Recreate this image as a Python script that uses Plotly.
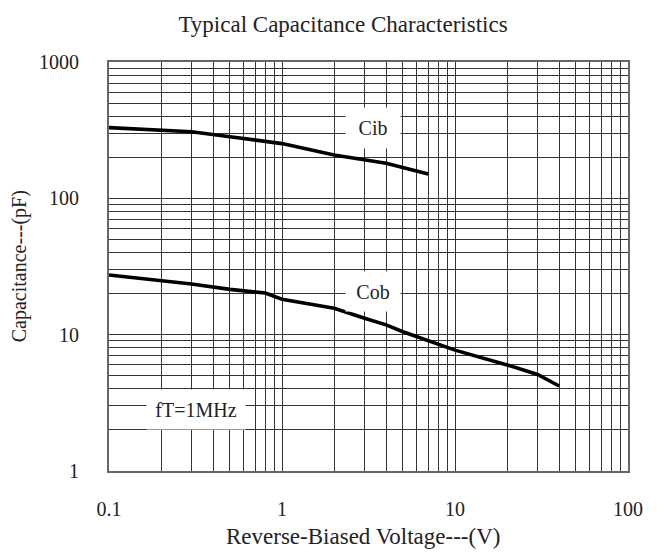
import math
import plotly.graph_objects as go

# ---- data ----
cib_v = [0.1, 0.2, 0.3, 0.5, 0.7, 1, 2, 3, 4, 7]
cib_c = [330, 317, 308, 283, 268, 252, 208, 191, 181, 151]

cob_v = [0.1, 0.2, 0.3, 0.5, 0.8, 1, 2, 3, 4, 5, 7, 10, 20, 30, 40]
cob_c = [27.4, 24.9, 23.5, 21.5, 20.2, 18.2, 15.6, 13.2, 11.8, 10.5, 9.0, 7.7, 6.0, 5.1, 4.2]

x_major = [0.1, 1, 10, 100]
y_major = [1, 10, 100, 1000]
x_labels = ["0.1", "1", "10", "100"]
y_labels = ["1", "10", "100", "1000"]

title_text = "Typical Capacitance Characteristics"
x_title = "Reverse-Biased Voltage---(V)"
y_title = "Capacitance---(pF)"

FONT = "Liberation Serif"


def grid_vals(majors, labels):
    vals, texts = [], []
    for i, m in enumerate(majors[:-1]):
        for k in range(1, 10):
            vals.append(m * k)
            texts.append(labels[i] if k == 1 else "")
    vals.append(majors[-1])
    texts.append(labels[-1])
    return vals, texts


xv, xt = grid_vals(x_major, x_labels)
yv, yt = grid_vals(y_major, y_labels)

fig = go.Figure()
fig.add_trace(go.Scatter(x=cib_v, y=cib_c, mode="lines",
                         line=dict(color="black", width=3.6), showlegend=False))
fig.add_trace(go.Scatter(x=cob_v, y=cob_c, mode="lines",
                         line=dict(color="black", width=3.6), showlegend=False))


def ann(text, xval, yval, w, h):
    fig.add_annotation(x=math.log10(xval), y=math.log10(yval), xref="x", yref="y",
                       text=text, showarrow=False, bgcolor="white",
                       width=w, height=h, borderpad=0,
                       font=dict(family=FONT, size=20, color="#222"))


ann("Cib", 3.34, 328, 54, 40)
ann("Cob", 3.34, 20.8, 54, 39)
ann("fT=1MHz", 0.318, 2.84, 98, 39)

fig.add_annotation(x=0.49, y=-0.161, xref="paper", yref="paper", text=x_title,
                   showarrow=False, yanchor="middle",
                   font=dict(family=FONT, size=23, color="#222"))
fig.add_annotation(x=-0.172, y=0.5, xref="paper", yref="paper", text=y_title,
                   showarrow=False, textangle=-90, xanchor="center",
                   font=dict(family=FONT, size=20, color="#222"))

fig.update_layout(
    width=657, height=553,
    margin=dict(l=109, r=29, t=62, b=82),
    paper_bgcolor="white", plot_bgcolor="white",
    title=dict(text=title_text, x=343 / 657, xanchor="center",
               y=1 - 24 / 553, yanchor="middle",
               font=dict(family=FONT, size=23, color="#222")),
    font=dict(family=FONT, size=20, color="#222"),
)
fig.update_xaxes(type="log", range=[-1, 2], tickmode="array", tickvals=xv, ticktext=xt,
                 showgrid=True, gridcolor="#333", gridwidth=1,
                 showline=True, linecolor="#666", linewidth=2, mirror=True,
                 ticks="outside", ticklen=19, tickcolor="rgba(0,0,0,0)", zeroline=False)
fig.update_yaxes(type="log", range=[0, 3], tickmode="array", tickvals=yv, ticktext=yt,
                 showgrid=True, gridcolor="#333", gridwidth=1,
                 showline=True, linecolor="#666", linewidth=2, mirror=True,
                 ticks="outside", ticklen=24, tickcolor="rgba(0,0,0,0)", zeroline=False)

fig.write_html("out.html", config={"displayModeBar": False},
               post_script="document.body.style.margin='0';document.body.style.overflow='hidden';")
